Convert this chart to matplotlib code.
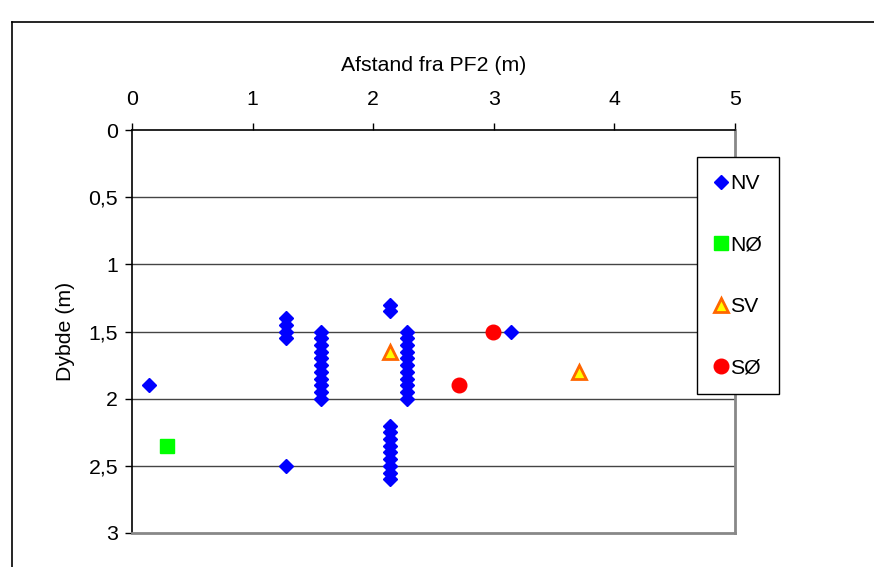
import matplotlib
matplotlib.use("Agg")
import matplotlib.pyplot as plt
from matplotlib.lines import Line2D

plt.rcParams['font.family'] = ['Liberation Sans', 'DejaVu Sans']

# Data
nv_x = [0.14, 1.28, 1.28, 1.28, 1.28, 1.28,
        1.57, 1.57, 1.57, 1.57, 1.57, 1.57, 1.57, 1.57, 1.57, 1.57, 1.57,
        2.14, 2.14,
        2.28, 2.28, 2.28, 2.28, 2.28, 2.28, 2.28, 2.28, 2.28, 2.28, 2.28,
        2.14, 2.14, 2.14, 2.14, 2.14, 2.14, 2.14, 2.14, 2.14,
        3.14]
nv_y = [1.9, 1.40, 1.45, 1.50, 1.55, 2.5,
        1.50, 1.55, 1.60, 1.65, 1.70, 1.75, 1.80, 1.85, 1.90, 1.95, 2.00,
        1.30, 1.35,
        1.50, 1.55, 1.60, 1.65, 1.70, 1.75, 1.80, 1.85, 1.90, 1.95, 2.00,
        2.20, 2.25, 2.30, 2.35, 2.40, 2.45, 2.50, 2.55, 2.60,
        1.50]
no_x = [0.29]
no_y = [2.35]
sv_x = [2.14, 3.71]
sv_y = [1.65, 1.80]
so_x = [2.71, 2.99]
so_y = [1.90, 1.50]

x_ticks = [0, 1, 2, 3, 4, 5]
y_ticks = [0, 0.5, 1, 1.5, 2, 2.5, 3]
y_ticklabels = ["0", "0,5", "1", "1,5", "2", "2,5", "3"]

FS = 15.3

fig = plt.figure(figsize=(8.74, 5.67), dpi=100)
ax = fig.add_axes([132/874, 1-533/567, (735-132)/874, (533-130)/567])

ax.plot(nv_x, nv_y, linestyle='none', marker='D', markersize=7.5, color='#0000FF',
        markeredgecolor='#0000FF', label='NV', zorder=3)
ax.plot(no_x, no_y, linestyle='none', marker='s', markersize=10.5, color='#00FF00',
        markeredgecolor='#00FF00', label='NØ', zorder=3)
ax.plot(sv_x, sv_y, linestyle='none', marker='^', markersize=10, markerfacecolor='#FFFF00',
        markeredgecolor='#FF6600', markeredgewidth=2, label='SV', zorder=3)
ax.plot(so_x, so_y, linestyle='none', marker='o', markersize=10.5, color='#FF0000',
        markeredgecolor='#FF0000', label='SØ', zorder=3)

ax.set_xlim(0, 5)
ax.set_ylim(3, 0)
ax.xaxis.tick_top()
ax.xaxis.set_label_position('top')
ax.set_xticks(x_ticks)
ax.set_yticks(y_ticks)
ax.set_yticklabels(y_ticklabels)
ax.tick_params(axis='both', labelsize=FS, length=5, width=1, color='#000000', direction='out')
ax.tick_params(axis='x', pad=10)
ax.tick_params(axis='y', pad=5)
ax.set_xlabel('Afstand fra PF2 (m)', fontsize=FS, labelpad=14)
ax.set_ylabel('Dybde (m)', fontsize=FS, labelpad=10)

for yv in [0.5, 1.0, 1.5, 2.0, 2.5]:
    ax.axhline(yv, color='#444444', linewidth=1, zorder=1)

ax.spines['top'].set_color('#000000')
ax.spines['left'].set_color('#000000')
ax.spines['top'].set_linewidth(1.2)
ax.spines['left'].set_linewidth(1.2)
ax.spines['right'].set_color('#888888')
ax.spines['bottom'].set_color('#888888')
ax.spines['right'].set_linewidth(2)
ax.spines['bottom'].set_linewidth(2)

leg = fig.legend(loc='upper left', bbox_to_anchor=(697/874, 1-157/567),
                 bbox_transform=fig.transFigure, borderaxespad=0,
                 fontsize=FS, labelspacing=2.0, handlelength=0.65, handletextpad=0.1,
                 borderpad=0.8, fancybox=False, framealpha=1, edgecolor='#000000',
                 numpoints=1)
leg.get_frame().set_linewidth(1)

# Outer chart area frame (left and top visible)
fig.add_artist(Line2D([12/874, 12/874], [0, 1-22/567], transform=fig.transFigure,
                      color='#000000', linewidth=1.2))
fig.add_artist(Line2D([12/874, 1], [1-22/567, 1-22/567], transform=fig.transFigure,
                      color='#000000', linewidth=1.2))

fig.savefig('out.png', dpi=100)
